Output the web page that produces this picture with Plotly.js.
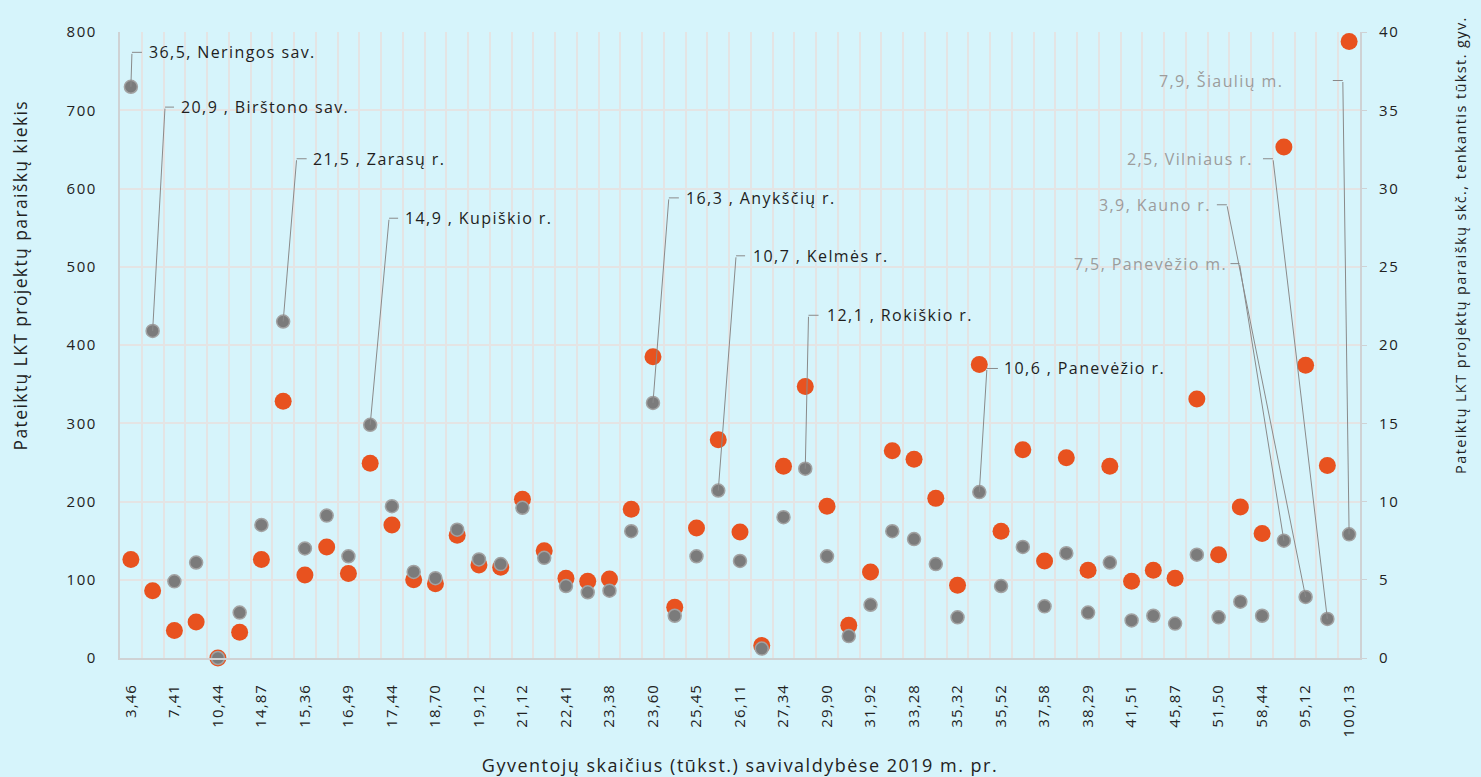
<!DOCTYPE html>
<html>
<head>
<meta charset="utf-8">
<script src="https://cdn.plot.ly/plotly-3.0.1.min.js"></script>
<style>
  html, body { margin: 0; padding: 0; background: #d6f4fb; }
  #chart { width: 1481px; height: 777px; }
  /* wide, airy lettering; unscoped so text measurement sees the same spacing */
  .xtick text { letter-spacing: 1.1px; }
  .ytick text, .y2tick text { letter-spacing: 1.6px; }
  .annotation-text { letter-spacing: 1.4px; }
  .xtitle { letter-spacing: 1.5px; }
</style>
</head>
<body>
<div id="chart"></div>
<script>
// Municipality population (thousand residents, 2019), sorted ascending
const population = [
  "3,46", "4,11", "7,41", "7,54", "10,44", "11,38", "14,87", "15,26", "15,36", "15,60",
  "16,49", "16,71", "17,44", "18,18", "18,70", "18,98", "19,12", "19,33", "21,12", "21,41",
  "22,41", "23,17", "23,38", "23,47", "23,60", "24,07", "25,45", "26,04", "26,11", "26,67",
  "27,34", "28,68", "29,90", "30,21", "31,92", "32,71", "33,28", "34,05", "35,32", "35,41",
  "35,52", "37,46", "37,58", "38,10", "38,29", "40,16", "41,51", "42,60", "45,87", "50,18",
  "51,50", "53,61", "58,44", "87,07", "95,12", "98,42", "100,13"
];

// Submitted LKT project applications (count)
const applications = [
  126, 86, 35, 46, 0, 33, 126, 328, 106, 142,
  108, 249, 170, 100, 95, 157, 119, 116, 203, 137,
  102, 98, 101, 190, 385, 65, 166, 279, 161, 16,
  245, 347, 194, 42, 110, 265, 254, 204, 93, 375,
  162, 266, 124, 256, 112, 245, 98, 112, 102, 331,
  132, 193, 159, 653, 374, 246, 788
];

// Applications per thousand residents
const perThousand = [
  36.5, 20.9, 4.9, 6.1, 0, 2.9, 8.5, 21.5, 7.0, 9.1,
  6.5, 14.9, 9.7, 5.5, 5.1, 8.2, 6.3, 6.0, 9.6, 6.4,
  4.6, 4.2, 4.3, 8.1, 16.3, 2.7, 6.5, 10.7, 6.2, 0.6,
  9.0, 12.1, 6.5, 1.4, 3.4, 8.1, 7.6, 6.0, 2.6, 10.6,
  4.6, 7.1, 3.3, 6.7, 2.9, 6.1, 2.4, 2.7, 2.2, 6.6,
  2.6, 3.6, 2.7, 7.5, 3.9, 2.5, 7.9
];

// Named municipalities: index into the series and the name shown
const labelIndex = [0, 1, 7, 11, 24, 27, 31, 39, 56, 55, 54, 53];
const labelNames = [
  "Neringos sav.", "Birštono sav.", "Zarasų r.", "Kupiškio r.", "Anykščių r.",
  "Kelmės r.", "Rokiškio r.", "Panevėžio r.", "Šiaulių m.", "Vilniaus r.",
  "Kauno r.", "Panevėžio m."
];
const labelSeparators = [", ", " , ", " , ", " , ", " , ", " , ", " , ", " , ", ", ", ", ", ", ", ", "];

// Axis titles
const xTitle = "Gyventojų skaičius (tūkst.) savivaldybėse 2019 m. pr.";
const yTitle = "Pateiktų LKT projektų paraiškų kiekis";
const y2Title = "Pateiktų LKT projektų paraiškų skč., tenkantis tūkst. gyv.";

// Leader-line layout for each label: elbow (category position, right-axis value),
// side of the text, short tick length and gap before the text (px)
const labelLayout = [
  { ex: 0.05,  ey: 38.7, side: "right", tick: 10, gap: 7,  color: "#1e1e1e" },
  { ex: 1.57,  ey: 35.2, side: "right", tick: 9,  gap: 7,  color: "#1e1e1e" },
  { ex: 7.62,  ey: 31.9, side: "right", tick: 10, gap: 6,  color: "#1e1e1e" },
  { ex: 11.87, ey: 28.1, side: "right", tick: 9,  gap: 7,  color: "#1e1e1e" },
  { ex: 24.73, ey: 29.4, side: "right", tick: 10, gap: 7,  color: "#1e1e1e" },
  { ex: 27.82, ey: 25.7, side: "right", tick: 9,  gap: 8,  color: "#1e1e1e" },
  { ex: 31.15, ey: 21.9, side: "right", tick: 10, gap: 8,  color: "#1e1e1e" },
  { ex: 39.35, ey: 18.5, side: "right", tick: 11, gap: 6,  color: "#1e1e1e" },
  { ex: 55.71, ey: 36.9, side: "left",  tick: 10, gap: 50, color: "#9c9c9c" },
  { ex: 52.50, ey: 31.9, side: "left",  tick: 10, gap: 10, color: "#9c9c9c" },
  { ex: 50.38, ey: 28.96, side: "left", tick: 10, gap: 6,  color: "#9c9c9c" },
  { ex: 50.96, ey: 25.2, side: "left",  tick: 9,  gap: 3,  color: "#9c9c9c" }
];

const FONT = "'Open Sans', sans-serif";
const BG = "#d6f4fb";
const GRID = "#e4e4e4";
const AXIS = "#cfd2d4";
const INK = "#222222";

const fmt = v => v.toFixed(1).replace(".", ",");

const traces = [
  {
    type: "scatter", mode: "markers",
    x: population, y: applications, yaxis: "y",
    marker: { size: 17, color: "#e8521f" },
    cliponaxis: false, hoverinfo: "x+y"
  },
  {
    type: "scatter", mode: "markers",
    x: population, y: perThousand, yaxis: "y2",
    marker: { size: 13, color: "#7b7b7b", line: { color: "#a2a2a2", width: 1.5 } },
    cliponaxis: false, hoverinfo: "x+y"
  }
];

const annotations = [];
labelIndex.forEach((idx, k) => {
  const L = labelLayout[k];
  // diagonal leader from the point to the elbow
  annotations.push({
    xref: "x", yref: "y2", x: idx, y: perThousand[idx],
    axref: "x", ayref: "y2", ax: L.ex, ay: L.ey,
    text: "", showarrow: true, arrowhead: 0, arrowwidth: 1, arrowcolor: "#8a8a8a",
    standoff: 0, startstandoff: 0
  });
  // short horizontal tick and the text
  const dir = L.side === "right" ? 1 : -1;
  annotations.push({
    xref: "x", yref: "y2", x: L.ex, y: L.ey,
    ax: dir * L.tick, ay: 0,
    xanchor: L.side === "right" ? "left" : "right", yanchor: "middle",
    text: fmt(perThousand[idx]) + labelSeparators[k] + labelNames[k],
    font: { family: FONT, size: 16, color: L.color },
    showarrow: true, arrowhead: 0, arrowwidth: 1, arrowcolor: "#8a8a8a",
    borderpad: Math.max(L.gap - 1, 0), borderwidth: 1, bordercolor: "rgba(0,0,0,0)",
    standoff: 0
  });
});

// vertical axis titles, placed beside the axes
annotations.push({
  xref: "paper", yref: "paper", x: -0.081, y: 0.612,
  xanchor: "center", yanchor: "middle", textangle: -90, showarrow: false,
  text: yTitle, font: { family: FONT, size: 17.5, color: INK }
});
annotations.push({
  xref: "paper", yref: "paper", x: 1.0815, y: 0.66,
  xanchor: "center", yanchor: "middle", textangle: -90, showarrow: false,
  text: y2Title, font: { family: FONT, size: 14.5, color: INK }
});

const tickText = population.map((p, i) => (i % 2 === 0 ? p : ""));

const layout = {
  width: 1481, height: 777,
  paper_bgcolor: BG, plot_bgcolor: BG,
  margin: { l: 120, r: 121, t: 32, b: 119 },
  showlegend: false,
  font: { family: FONT, size: 15, color: INK },
  xaxis: {
    type: "category", categoryorder: "array", categoryarray: population,
    tickmode: "array", tickvals: population, ticktext: tickText,
    tickson: "boundaries", tickangle: -90,
    ticks: "", ticklabelstandoff: 18,
    showgrid: true, gridcolor: GRID, gridwidth: 2,
    showline: true, linecolor: AXIS, linewidth: 2,
    range: [-0.5, 56.5], automargin: false,
    tickfont: { family: FONT, size: 15, color: INK },
    title: { text: xTitle, font: { family: FONT, size: 18, color: INK }, standoff: 24 }
  },
  yaxis: {
    range: [0, 800], dtick: 100, tick0: 0,
    showgrid: true, gridcolor: GRID, gridwidth: 2, zeroline: false,
    showline: true, linecolor: AXIS, linewidth: 2,
    ticks: "", ticklabelstandoff: 18, automargin: false,
    tickfont: { family: FONT, size: 15, color: INK }
  },
  yaxis2: {
    overlaying: "y", side: "right",
    range: [0, 40], dtick: 5, tick0: 0,
    showgrid: false, zeroline: false,
    showline: true, linecolor: AXIS, linewidth: 2,
    ticks: "outside", ticklen: 5, tickcolor: AXIS, tickwidth: 1,
    ticklabelstandoff: 9, automargin: false,
    tickfont: { family: FONT, size: 15, color: INK }
  },
  annotations: annotations
};

Plotly.newPlot("chart", traces, layout, { displayModeBar: false, staticPlot: true });
</script>
</body>
</html>
